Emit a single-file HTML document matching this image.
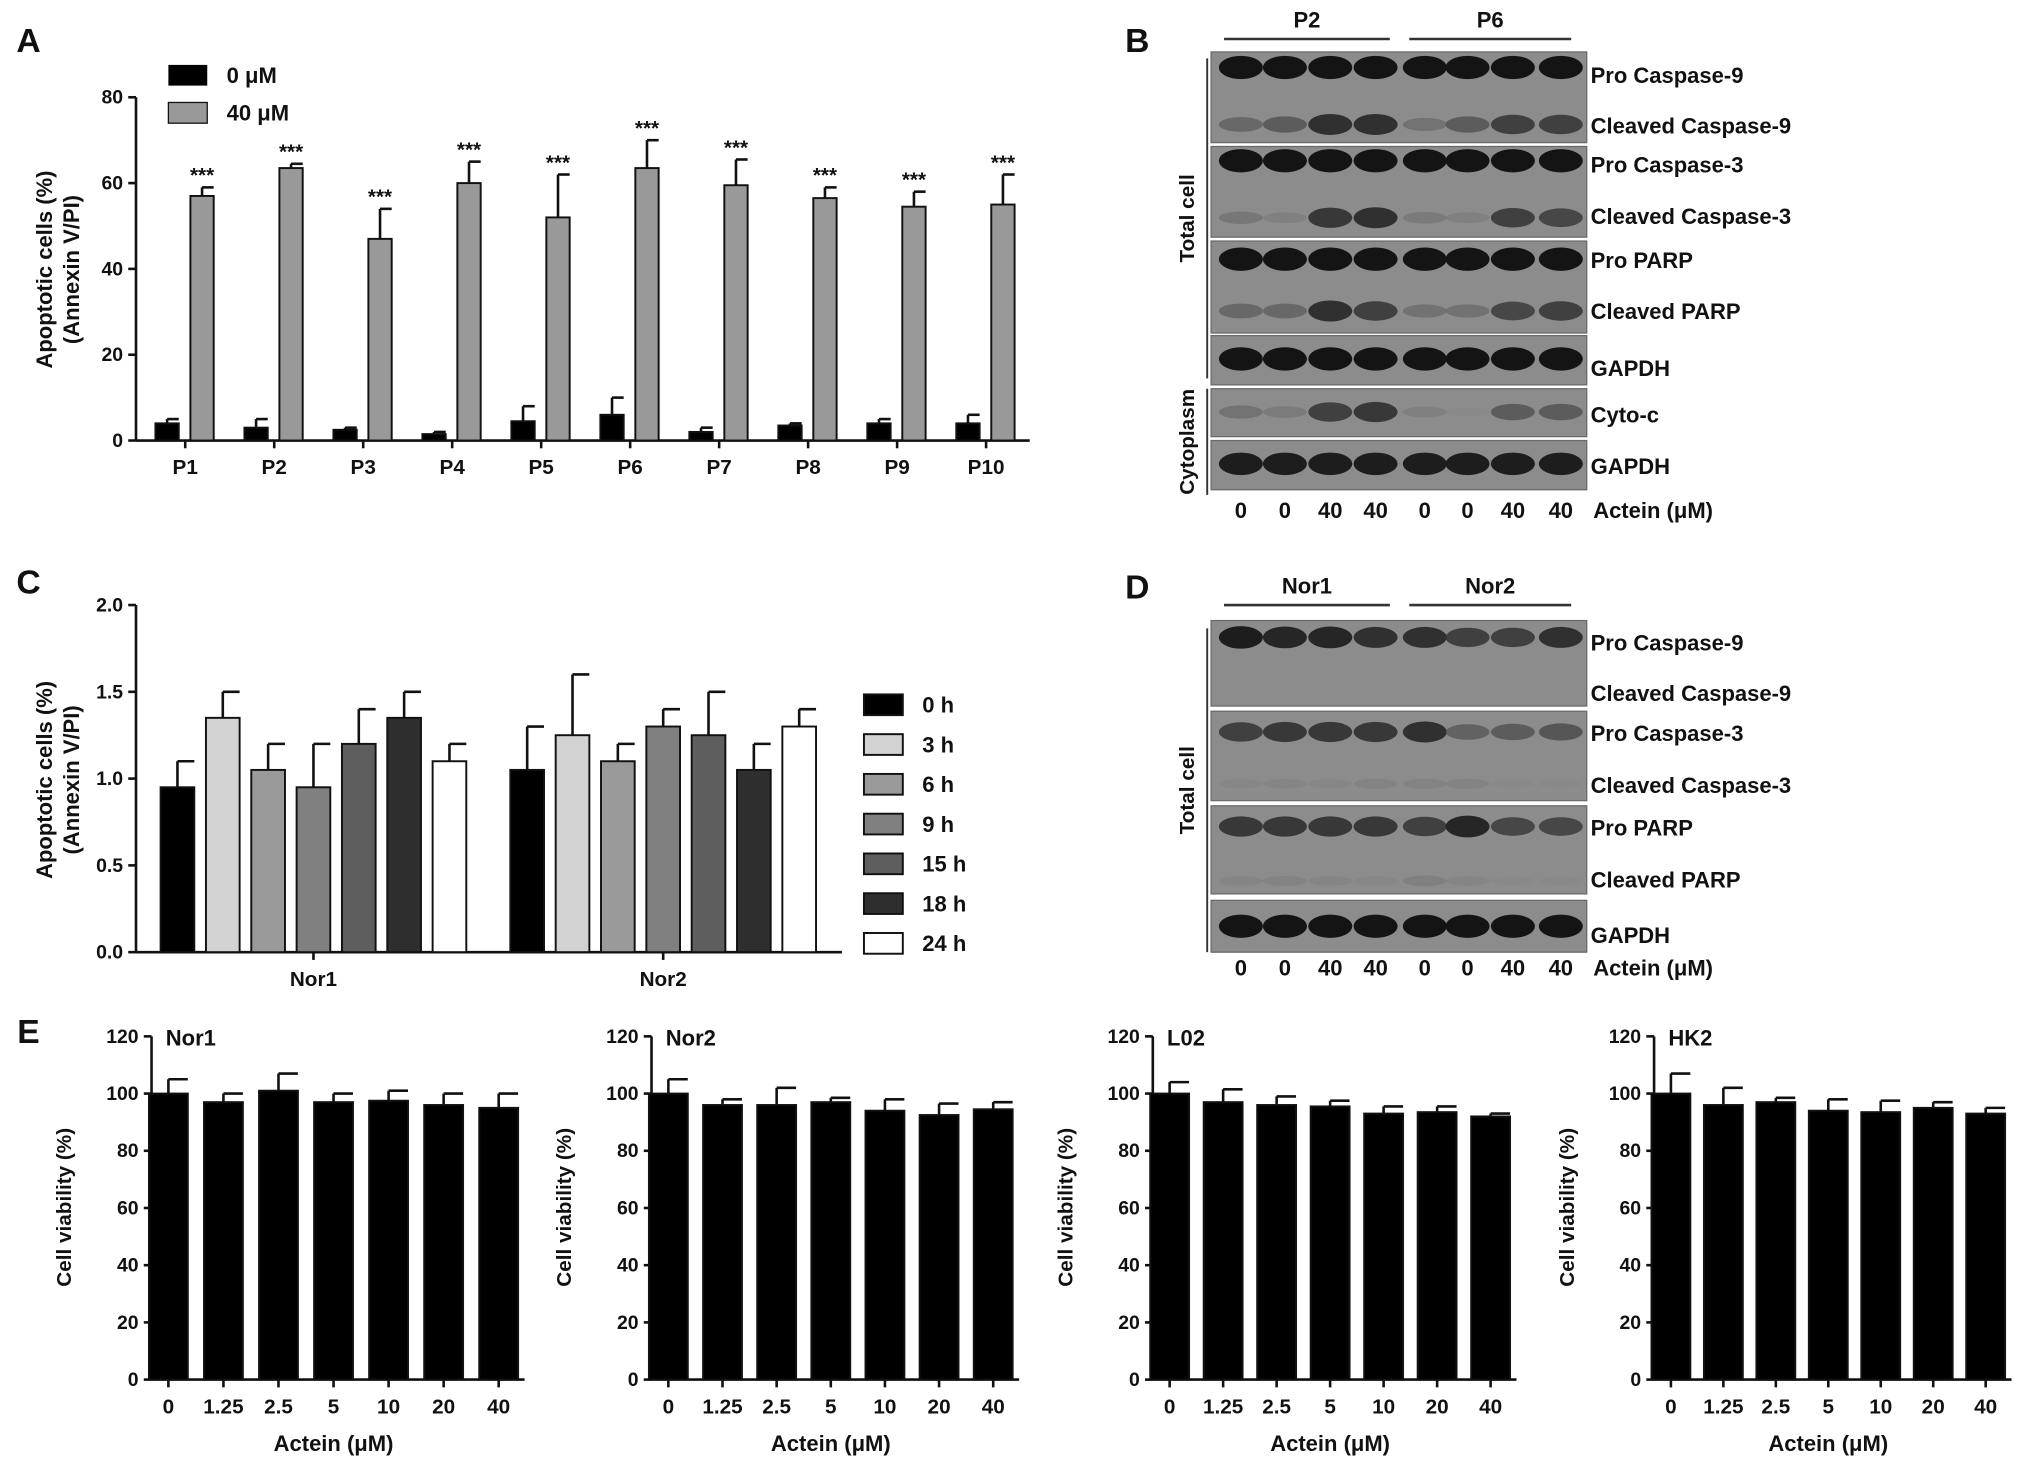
<!DOCTYPE html>
<html><head><meta charset="utf-8"><style>
html,body{margin:0;padding:0;background:#fff;}
svg{display:block;font-family:"Liberation Sans",Arial,sans-serif;font-weight:bold;}
</style></head><body>
<svg id="fig" width="2031" height="1473" viewBox="0 0 1568 1137" xmlns="http://www.w3.org/2000/svg">
<g id="root"></g>
</svg>
<script>
// ---- Panel A data ----
const aCats = ["P1","P2","P3","P4","P5","P6","P7","P8","P9","P10"];
const a0 = [4,3,2.5,1.5,4.5,6,2,3.5,4,4];
const a0err = [1,2,0.5,0.5,3.5,4,1,0.5,1,2];
const a40 = [57,63.5,47,60,52,63.5,59.5,56.5,54.5,55];
const a40err = [2,1,7,5,10,6.5,6,2.5,3.5,7];
const aTicks = [0,20,40,60,80];
// ---- Panel C data ----
const cGroups = ["Nor1","Nor2"];
const cTimes = ["0 h","3 h","6 h","9 h","15 h","18 h","24 h"];
const cNor1 = [0.95,1.35,1.05,0.95,1.2,1.35,1.1];
const cNor1err = [0.15,0.15,0.15,0.25,0.2,0.15,0.1];
const cNor2 = [1.05,1.25,1.1,1.3,1.25,1.05,1.3];
const cNor2err = [0.25,0.35,0.1,0.1,0.25,0.15,0.1];
const cTicks = [0,0.5,1.0,1.5,2.0];
const cColors = ["#000","#d2d2d2","#9a9a9a","#808080","#5e5e5e","#2e2e2e","#fff"];
// ---- Panel E data ----
const eCats = ["0","1.25","2.5","5","10","20","40"];
const eTitles = ["Nor1","Nor2","L02","HK2"];
const eNor1 = [100,97,101,97,97.5,96,95];
const eNor1err = [5,3,6,3,3.5,4,5];
const eNor2 = [100,96,96,97,94,92.5,94.5];
const eNor2err = [5,2,6,1.5,4,4,2.5];
const eL02 = [100,97,96,95.5,93,93.5,92];
const eL02err = [4,4.5,3,2,2.5,2,1];
const eHK2 = [100,96,97,94,93.5,95,93];
const eHK2err = [7,6,1.5,4,4,2,2];
const eTicks = [0,20,40,60,80,100,120];
// ---- Blot data (band intensity 0..1) ----
const bRows = [[1,1,1,1,1,1,1,1],[0.45,0.55,0.85,0.85,0.35,0.55,0.75,0.75],[1,1,1,1,1,1,1,1],[0.3,0.2,0.8,0.85,0.25,0.2,0.75,0.7],[1,1,1,1,1,1,1,1],[0.45,0.45,0.85,0.75,0.35,0.35,0.7,0.75],[1,1,1,1,1,1,1,1],[0.35,0.25,0.75,0.8,0.2,0.05,0.55,0.55],[0.95,0.95,0.95,0.95,0.95,0.95,0.95,0.95]];
const dRows = [[0.95,0.9,0.9,0.85,0.85,0.75,0.75,0.85],[0,0,0,0,0,0,0,0],[0.75,0.8,0.8,0.8,0.85,0.5,0.55,0.6],[0.1,0.12,0.1,0.15,0.15,0.15,0.05,0.05],[0.8,0.8,0.8,0.8,0.75,0.9,0.7,0.7],[0.12,0.15,0.12,0.1,0.2,0.12,0.05,0.05],[1,1,1,1,1,1,1,1]];

const NS="http://www.w3.org/2000/svg";
const root=document.getElementById('root');
function el(tag,attrs,parent,text){const e=document.createElementNS(NS,tag);for(const k in attrs)e.setAttribute(k,attrs[k]);if(text!==undefined)e.textContent=text;(parent||root).appendChild(e);return e;}
function txt(x,y,s,size,anchor,parent){return el('text',{x:x,y:y,'font-size':size,'text-anchor':anchor||'middle',fill:'#111'},parent,s);}

function yAxis(g,x0,yBase,scale,ticks,fmt,topVal){
  el('line',{x1:x0,y1:yBase,x2:x0,y2:yBase-topVal*scale,stroke:'#111','stroke-width':2},g);
  ticks.forEach(t=>{const y=yBase-t*scale;el('line',{x1:x0-6,y1:y,x2:x0,y2:y,stroke:'#111','stroke-width':2},g);
    const tl=txt(x0-10,y+5,fmt(t),15,'end',g);
    
    });
}
function bar(g,cx,w,yBase,scale,v,err,fill,name){
  const r=el('rect',{x:cx-w/2,y:yBase-v*scale,width:w,height:v*scale,fill:fill,stroke:'#111','stroke-width':1.5},g);
  
  
  const yt=yBase-(v+err)*scale;
  el('line',{x1:cx,y1:yBase-v*scale,x2:cx,y2:yt,stroke:'#111','stroke-width':2},g);
  el('line',{x1:cx,y1:yt,x2:cx+w/2,y2:yt,stroke:'#111','stroke-width':2},g);
}

// ---- Panel A ----
(function(){
  const g=el('g',{});
  txt(22,40,'A',26,'middle',g);
  const x0=105,yB=340,sc=(340-75)/80;
  yAxis(g,x0,yB,sc,aTicks,t=>t,80);
  el('line',{x1:x0,y1:yB,x2:795,y2:yB,stroke:'#111','stroke-width':2},g);
  aCats.forEach((c,i)=>{const cx=148+i*68.7;
    bar(g,cx-19,18,yB,sc,a0[i],a0err[i],'#000','bar-0um-'+c);
    bar(g,cx+8,18,yB,sc,a40[i],a40err[i],'#999','bar-40um-'+c);
    el('line',{x1:cx-5,y1:yB,x2:cx-5,y2:yB+6,stroke:'#111','stroke-width':2},g);
    const l=txt(cx-5,yB+26,c,16,'middle',g);
    txt(cx+8,yB-(a40[i]+a40err[i])*sc-4,'***',16,'middle',g);
  });
  const yt=el('text',{transform:'translate(40,208) rotate(-90)','font-size':17,'text-anchor':'middle',fill:'#111'},g);
  
  el('tspan',{x:0,y:0},yt,'Apoptotic cells (%)');el('tspan',{x:0,y:21},yt,'(Annexin V/PI)');
  el('rect',{x:130,y:50,width:30,height:16,fill:'#000'},g);
  txt(175,64,'0 μM',17,'start',g);
  el('rect',{x:130,y:79,width:30,height:16,fill:'#999',stroke:'#111'},g);
  txt(175,93,'40 μM',17,'start',g);
})();

// ---- Panel C ----
(function(){
  const g=el('g',{});
  txt(22,458,'C',26,'middle',g);
  const x0=105,yB=735,sc=134;
  yAxis(g,x0,yB,sc,cTicks,t=>t.toFixed(1),2.0);
  el('line',{x1:x0,y1:yB,x2:650,y2:yB,stroke:'#111','stroke-width':2},g);
  const data=[cNor1,cNor2],errs=[cNor1err,cNor2err];
  cGroups.forEach((gr,gi)=>{const start=137+gi*270;
    cTimes.forEach((t,i)=>bar(g,start+i*35,26,yB,sc,data[gi][i],errs[gi][i],cColors[i],'bar-'+gr+'-'+t.replace(' ','')));
    const l=txt(start+105,yB+26,gr,16,'middle',g);
    el('line',{x1:start+105,y1:yB,x2:start+105,y2:yB+6,stroke:'#111','stroke-width':2},g);
  });
  const yt=el('text',{transform:'translate(40,602) rotate(-90)','font-size':17,'text-anchor':'middle',fill:'#111'},g);
  
  el('tspan',{x:0,y:0},yt,'Apoptotic cells (%)');el('tspan',{x:0,y:21},yt,'(Annexin V/PI)');
  cTimes.forEach((t,i)=>{const y=536+i*30.7;
    const r=el('rect',{x:667,y:y,width:30,height:16,fill:cColors[i],stroke:'#111','stroke-width':1.5},g);
    
    txt(712,y+14,t,17,'start',g);});
})();

// ---- Panel E ----
(function(){
  txt(22,805,'E',26,'middle');
  const vals=[eNor1,eNor2,eL02,eHK2],errs=[eNor1err,eNor2err,eL02err,eHK2err];
  const axX=[117,503,890,1277],step=[42.5,41.8,41.3,40.5];
  eTitles.forEach((ti,k)=>{
    const g=el('g',{});
    const x0=axX[k],yB=1065,sc=(1065-800)/120,st=step[k];
    yAxis(g,x0,yB,sc,eTicks,t=>t,120);
    el('line',{x1:x0,y1:yB,x2:x0+13+6*st+20,y2:yB,stroke:'#111','stroke-width':2},g);
    eCats.forEach((c,i)=>{const cx=x0+13+i*st;
      bar(g,cx,30,yB,sc,vals[k][i],errs[k][i],'#000','bar-'+ti+'-'+c);
      el('line',{x1:cx,y1:yB,x2:cx,y2:yB+6,stroke:'#111','stroke-width':2},g);
      const l=txt(cx,yB+26,c,16,'middle',g);});
    txt(x0+11,807,ti,17,'start',g);
    txt(x0+13+3*st,1120,'Actein (μM)',17,'middle',g);
    const yt=el('text',{transform:'translate('+(x0-62)+',932) rotate(-90)','font-size':16,'text-anchor':'middle',fill:'#111'},g,'Cell viability (%)');
    
  });
})();

// ---- Blots ----
function blot(name,blocks,rowsY,rows,labels,labelY,groupLabels,groupY,sideLines,actY,letter,letterY){
  const g=el('g',{});
  txt(878,letterY,letter,26,'middle',g);
  const lanes=[958,992,1027,1062,1100,1133,1168,1205];
  blocks.forEach(b=>{const r=el('rect',{x:935,y:b[0],width:290,height:b[1]-b[0],fill:'#8c8c8c',stroke:'#6a6a6a'},g);});
  rows.forEach((row,ri)=>row.forEach((v,li)=>{if(v<=0.02)return;
    const d=Math.round(140-120*v);
    el('ellipse',{cx:lanes[li],cy:rowsY[ri],rx:17,ry:3+6*v,fill:'rgb('+d+','+d+','+d+')',opacity:0.4+0.6*v},g);}));
  labels.forEach((l,i)=>txt(1228,labelY[i],l,17,'start',g));
  groupLabels.forEach((gl,i)=>{const xs=i?[1088,1213]:[945,1073];
    el('line',{x1:xs[0],y1:groupY,x2:xs[1],y2:groupY,stroke:'#333','stroke-width':2},g);
    txt((xs[0]+xs[1])/2,groupY-9,gl,17,'middle',g);});
  sideLines.forEach(s=>{el('line',{x1:932,y1:s[0],x2:932,y2:s[1],stroke:'#333','stroke-width':1.5},g);
    el('text',{transform:'translate(922,'+((s[0]+s[1])/2)+') rotate(-90)','font-size':16,'text-anchor':'middle',fill:'#111'},g,s[2]);});
  ['0','0','40','40','0','0','40','40'].forEach((a,i)=>txt(lanes[i],actY,a,17,'middle',g));
  txt(1230,actY,'Actein (μM)',17,'start',g);
}
blot('panel-b-blot',[[40,110],[113,183],[186,257],[259,297],[300,337],[340,378]],
  [52,96,124,168,200,240,277,318,358],bRows,
  ['Pro Caspase-9','Cleaved Caspase-9','Pro Caspase-3','Cleaved Caspase-3','Pro PARP','Cleaved PARP','GAPDH','Cyto-c','GAPDH'],
  [64,103,133,173,207,246,290,326,366],['P2','P6'],30,[[45,292,'Total cell'],[300,382,'Cytoplasm']],400,'B',40);
blot('panel-d-blot',[[479,545],[549,618],[622,690],[695,735]],
  [492,534,565,605,638,680,715],dRows,
  ['Pro Caspase-9','Cleaved Caspase-9','Pro Caspase-3','Cleaved Caspase-3','Pro PARP','Cleaved PARP','GAPDH'],
  [502,541,572,612,645,685,728],['Nor1','Nor2'],467,[[485,735,'Total cell']],753,'D',462);
</script>
</body></html>
